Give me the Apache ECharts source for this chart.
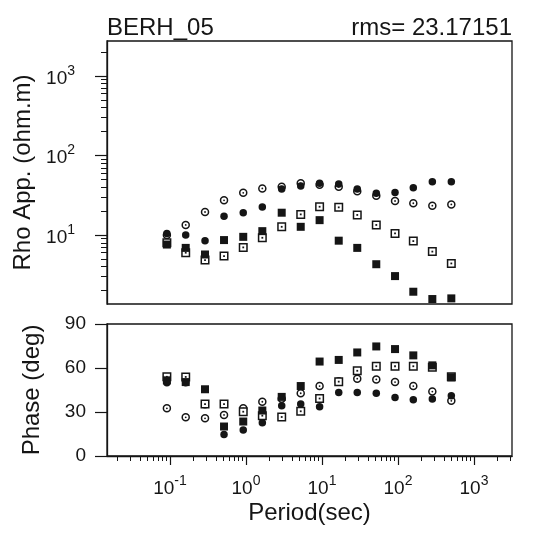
<!DOCTYPE html>
<html><head><meta charset="utf-8">
<script src="https://cdn.jsdelivr.net/npm/echarts@6/dist/echarts.min.js"></script>
<style>html,body{margin:0;padding:0;background:#fff}#c{width:537px;height:536px}</style>
</head><body><div id="c"></div>
<script>
// ---- data ----
const period = [0.091, 0.161, 0.289, 0.514, 0.92, 1.64, 2.95, 5.25, 9.3, 16.6, 29.1, 51.8, 91.4, 159, 283, 503];

const rhoFilledCircle = [10.5, 10.0, 8.5, 17.3, 19.1, 22.5, 37.9, 41.3, 44.7, 43.9, 37.9, 33.5, 34.4, 39.4, 46.8, 46.8];
const rhoOpenCircle   = [10.0, 13.4, 19.5, 27.3, 34.0, 38.6, 40.5, 44.7, 43.0, 40.5, 35.5, 31.2, 26.8, 25.1, 23.4, 24.3];
const rhoFilledSquare = [7.6, 6.9, 5.7, 8.65, 9.5, 11.2, 19.1, 12.7, 15.4, 8.5, 6.9, 4.3, 3.05, 1.94, 1.57, 1.6];
const rhoOpenSquare   = [8.0, 6.0, 4.85, 5.45, 7.0, 9.25, 12.7, 18.2, 22.7, 22.3, 17.9, 13.4, 10.5, 8.4, 6.2, 4.4];

const phaseFilledCircle = [50, 50, 35, 14.7, 17.8, 22.6, 34.3, 35.4, 33.6, 43.3, 43.3, 42.8, 39.9, 38.3, 38.8, 41.0];
const phaseOpenCircle   = [32.5, 26.4, 25.7, 28.0, 32.5, 37.0, 39.0, 42.8, 47.7, 51.0, 52.7, 52.2, 50.4, 47.7, 43.9, 37.6];
const phaseFilledSquare = [51.6, 50.4, 45.5, 20.1, 23.5, 31.0, 40.3, 47.7, 64.4, 65.5, 70.6, 74.7, 72.9, 68.6, 61.8, 53.6];
const phaseOpenSquare   = [54.0, 53.9, 35.4, 35.4, 30.2, 27.5, 26.6, 30.5, 39.2, 50.7, 58.1, 61.2, 61.2, 61.2, 60.5, 54.0];

// ---- axis ticks ----
const periodMajorTicks = [0.1, 1, 10, 100, 1000];
const rhoMajorTicks = [10, 100, 1000];
const phaseTicks = [0, 30, 60, 90];
const minorSteps = [2, 3, 4, 5, 6, 7, 8, 9];
const periodDecades = [0.01, 0.1, 1, 10, 100, 1000];
const rhoDecades = [1, 10, 100, 1000];

const titleLeft = 'BERH_05';
const titleRight = 'rms= 23.17151';

// ---- ranges ----
const xMin = 0.01483, xMax = 3162;
const rhoMin = 1.36, rhoMax = 2750;

function minors(decades, lo, hi) {
  const out = [];
  decades.forEach(d => minorSteps.forEach(m => { const v = +(d * m).toPrecision(6); if (v > lo && v < hi) out.push(v); }));
  return out;
}
const periodMinorTicks = minors(periodDecades, xMin, xMax);
const rhoMinorTicks = minors(rhoDecades, rhoMin, rhoMax);

const FONT = 'Liberation Sans';
const INK = '#151515';
function pow10Label(v) {
  const e = Math.round(Math.log10(v));
  return '{b|10}{s|' + (e < 0 ? '-' : '') + Math.abs(e) + '}';
}
const richSup = {
  b: { fontFamily: FONT, fontSize: 19, color: INK, verticalAlign: 'bottom', lineHeight: 24 },
  s: { fontFamily: FONT, fontSize: 14, color: INK, verticalAlign: 'top', lineHeight: 24, padding: [0, 0, 10, 0] }
};
const pair = arr => period.map((p, i) => [p, arr[i]]);

const openStyle = { color: '#fff', borderColor: INK, borderWidth: 1.5, opacity: 1 };
const dotStyle = { color: INK, opacity: 1 };
const fillStyle = { color: INK, opacity: 1 };

const chart = echarts.init(document.getElementById('c'), null, { renderer: 'canvas' });
chart.setOption({
  animation: false,
  backgroundColor: '#fff',
  textStyle: { fontFamily: FONT },
  title: [
    { text: titleLeft, left: 107, top: 16, padding: 0, textStyle: { fontFamily: FONT, fontSize: 24, fontWeight: 'normal', color: INK } },
    { text: titleRight, right: 25, top: 16, padding: 0, textStyle: { fontFamily: FONT, fontSize: 24, fontWeight: 'normal', color: INK } }
  ],
  grid: [
    { left: 107, right: 25, top: 41, height: 263, show: true, borderColor: INK, borderWidth: 1.3, backgroundColor: 'transparent' },
    { left: 107, right: 25, top: 324, height: 132, show: true, borderColor: INK, borderWidth: 1.3, backgroundColor: 'transparent' }
  ],
  xAxis: [
    { gridIndex: 0, type: 'log', position: 'bottom', min: xMin, max: xMax, axisLine: { show: false }, axisTick: { show: false }, axisLabel: { show: false }, splitLine: { show: false } },
    { gridIndex: 1, type: 'log', position: 'bottom', min: xMin, max: xMax,
      axisLine: { show: true, lineStyle: { color: INK, width: 1.3 } },
      axisTick: { show: true, inside: false, length: 9, customValues: periodMajorTicks, lineStyle: { color: INK, width: 1.2 } },
      axisLabel: { show: true, customValues: periodMajorTicks, margin: 18, formatter: pow10Label, rich: richSup },
      splitLine: { show: false },
      name: 'Period(sec)', nameLocation: 'middle', nameGap: 45,
      nameTextStyle: { fontFamily: FONT, fontSize: 24, color: INK } },
    { gridIndex: 1, type: 'log', position: 'bottom', min: xMin, max: xMax,
      axisLine: { show: false },
      axisTick: { show: true, inside: false, length: 5, customValues: periodMinorTicks, lineStyle: { color: INK, width: 1 } },
      axisLabel: { show: false }, splitLine: { show: false } }
  ],
  yAxis: [
    { gridIndex: 0, type: 'log', position: 'left', min: rhoMin, max: rhoMax,
      axisLine: { show: true, lineStyle: { color: INK, width: 1.3 } },
      axisTick: { show: true, inside: false, length: 12, customValues: rhoMajorTicks, lineStyle: { color: INK, width: 1.2 } },
      axisLabel: { show: true, customValues: rhoMajorTicks, margin: 32, formatter: pow10Label, rich: richSup },
      splitLine: { show: false },
      name: 'Rho App. (ohm.m)', nameLocation: 'middle', nameGap: 63, nameRotate: 90,
      nameTextStyle: { fontFamily: FONT, fontSize: 24, color: INK } },
    { gridIndex: 0, type: 'log', position: 'left', min: rhoMin, max: rhoMax,
      axisLine: { show: false },
      axisTick: { show: true, inside: false, length: 6, customValues: rhoMinorTicks, lineStyle: { color: INK, width: 1 } },
      axisLabel: { show: false }, splitLine: { show: false } },
    { gridIndex: 1, type: 'value', position: 'left', min: 0, max: 90, interval: 30,
      axisLine: { show: true, lineStyle: { color: INK, width: 1.3 } },
      axisTick: { show: true, inside: false, length: 12, customValues: phaseTicks, lineStyle: { color: INK, width: 1.2 } },
      axisLabel: { show: true, customValues: phaseTicks, margin: 21, fontFamily: FONT, fontSize: 19, color: INK },
      splitLine: { show: false },
      name: 'Phase (deg)', nameLocation: 'middle', nameGap: 63, nameRotate: 90,
      nameTextStyle: { fontFamily: FONT, fontSize: 24, color: INK } }
  ],
  series: [
    { type: 'scatter', xAxisIndex: 0, yAxisIndex: 0, data: pair(rhoOpenCircle), symbol: 'circle', symbolSize: 7, itemStyle: openStyle, z: 2 },
    { type: 'scatter', xAxisIndex: 0, yAxisIndex: 0, data: pair(rhoOpenCircle), symbol: 'circle', symbolSize: 1.8, itemStyle: dotStyle, z: 2 },
    { type: 'scatter', xAxisIndex: 0, yAxisIndex: 0, data: pair(rhoFilledCircle), symbol: 'circle', symbolSize: 7.5, itemStyle: fillStyle, z: 3 },
    { type: 'scatter', xAxisIndex: 0, yAxisIndex: 0, data: pair(rhoOpenSquare), symbol: 'rect', symbolSize: 7.5, itemStyle: openStyle, z: 4 },
    { type: 'scatter', xAxisIndex: 0, yAxisIndex: 0, data: pair(rhoOpenSquare), symbol: 'rect', symbolSize: 1.8, itemStyle: dotStyle, z: 4 },
    { type: 'scatter', xAxisIndex: 0, yAxisIndex: 0, data: pair(rhoFilledSquare), symbol: 'rect', symbolSize: 8, itemStyle: fillStyle, z: 5 },

    { type: 'scatter', xAxisIndex: 1, yAxisIndex: 2, data: pair(phaseOpenCircle), symbol: 'circle', symbolSize: 7, itemStyle: openStyle, z: 2 },
    { type: 'scatter', xAxisIndex: 1, yAxisIndex: 2, data: pair(phaseOpenCircle), symbol: 'circle', symbolSize: 1.8, itemStyle: dotStyle, z: 2 },
    { type: 'scatter', xAxisIndex: 1, yAxisIndex: 2, data: pair(phaseFilledCircle), symbol: 'circle', symbolSize: 7.5, itemStyle: fillStyle, z: 3 },
    { type: 'scatter', xAxisIndex: 1, yAxisIndex: 2, data: pair(phaseOpenSquare), symbol: 'rect', symbolSize: 7.5, itemStyle: openStyle, z: 4 },
    { type: 'scatter', xAxisIndex: 1, yAxisIndex: 2, data: pair(phaseOpenSquare), symbol: 'rect', symbolSize: 1.8, itemStyle: dotStyle, z: 4 },
    { type: 'scatter', xAxisIndex: 1, yAxisIndex: 2, data: pair(phaseFilledSquare), symbol: 'rect', symbolSize: 8, itemStyle: fillStyle, z: 5 }
  ]
});
</script>
</body></html>
